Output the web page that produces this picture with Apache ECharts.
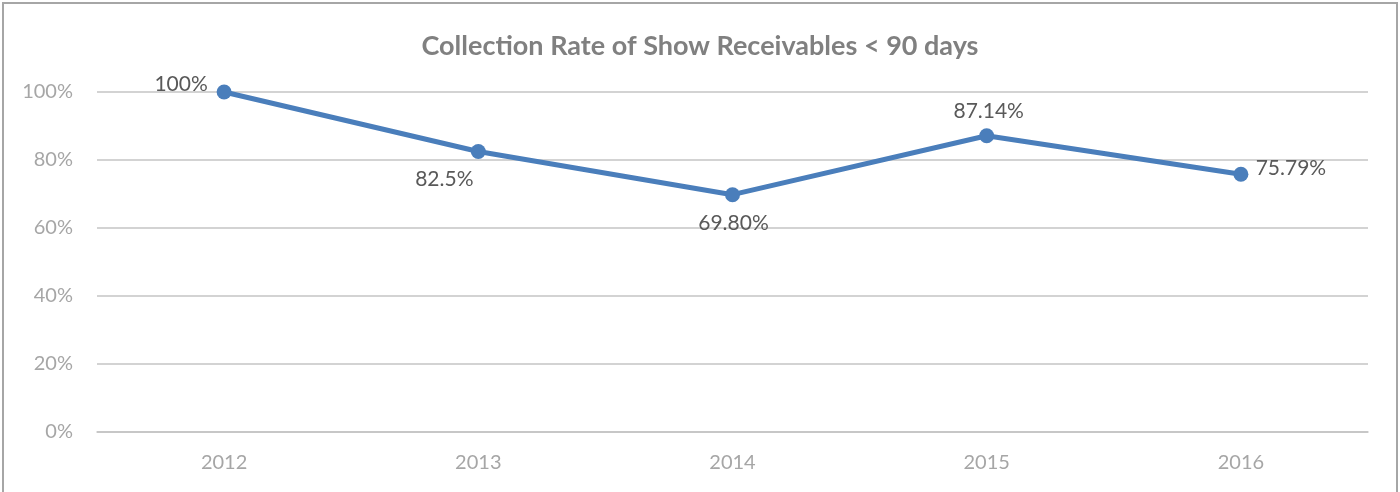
<!DOCTYPE html>
<html>
<head>
<meta charset="utf-8">
<script src="https://cdn.jsdelivr.net/npm/echarts@6/dist/echarts.min.js"></script>
<style>
html,body{margin:0;padding:0;background:#fff;}
#chart{width:1400px;height:492px;}
</style>
</head>
<body>
<div id="chart"></div>
<script>
const categories = ['2012', '2013', '2014', '2015', '2016'];
const values = [100, 82.5, 69.8, 87.14, 75.79];
const labelTexts = ['100%', '82.5%', '69.80%', '87.14%', '75.79%'];
const labelOffsets = [[-43, -8], [-34, 28], [1, 29], [2, -24], [50, -6]];

const chart = echarts.init(document.getElementById('chart'));
const FONT = 'Lato, "Open Sans", sans-serif';

chart.setOption({
  animation: false,
  title: {
    text: 'Collection Rate of Show Receivables < 90 days',
    left: 'center',
    top: 28,
    textStyle: { fontFamily: FONT, fontSize: 27, fontWeight: 'bold', color: '#808080' }
  },
  graphic: [{
    type: 'rect',
    shape: { x: 3, y: 3, width: 1394, height: 500 },
    style: { fill: 'none', stroke: '#a6a6a6', lineWidth: 2 },
    silent: true
  }],
  grid: { left: 97, right: 32, top: 92, bottom: 60 },
  xAxis: {
    type: 'category',
    data: categories,
    boundaryGap: true,
    axisLine: { show: true, lineStyle: { color: '#c4c4c4', width: 1.5 } },
    axisTick: { show: false },
    axisLabel: { color: '#a6a6a6', fontFamily: FONT, fontSize: 20, margin: 21 }
  },
  yAxis: {
    type: 'value',
    min: 0,
    max: 100,
    interval: 20,
    axisLine: { show: false },
    axisTick: { show: false },
    splitLine: { lineStyle: { color: '#c4c4c4', width: 1.5 } },
    axisLabel: { color: '#a6a6a6', fontFamily: FONT, fontSize: 20, margin: 24, formatter: '{value}%' }
  },
  series: [{
    type: 'line',
    data: values.map((v, i) => ({
      value: v,
      label: {
        show: true,
        position: 'inside',
        offset: labelOffsets[i],
        formatter: labelTexts[i]
      }
    })),
    lineStyle: { color: '#4a7ebb', width: 5 },
    itemStyle: { color: '#4a7ebb' },
    symbol: 'circle',
    symbolSize: 15,
    label: { color: '#595959', fontFamily: FONT, fontSize: 21 }
  }]
});
</script>
</body>
</html>
